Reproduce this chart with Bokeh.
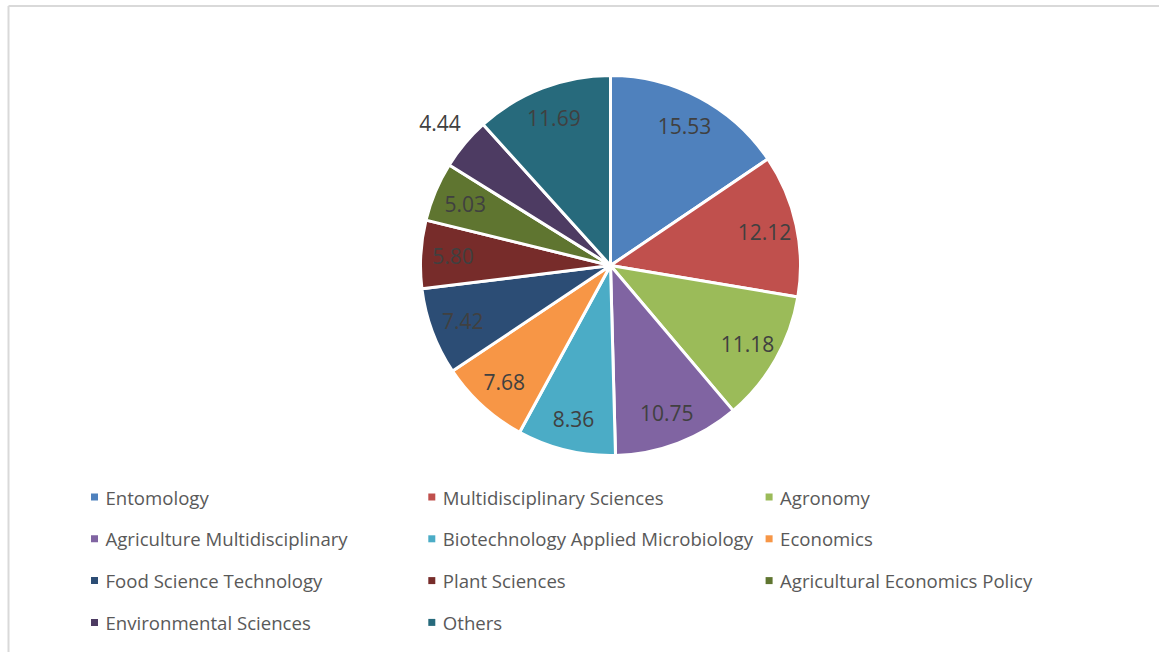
import math
from bokeh.plotting import figure
from bokeh.models import ColumnDataSource, Range1d
from bokeh.core.properties import value
from bokeh.embed import file_html
from bokeh.resources import INLINE

# ---- data ----
categories = [
    "Entomology", "Multidisciplinary Sciences", "Agronomy",
    "Agriculture Multidisciplinary", "Biotechnology Applied Microbiology", "Economics",
    "Food Science Technology", "Plant Sciences", "Agricultural Economics Policy",
    "Environmental Sciences", "Others",
]
shares = [15.53, 12.12, 11.18, 10.75, 8.36, 7.68, 7.42, 5.80, 5.03, 4.44, 11.69]
colors = ["#4F81BD", "#C0504D", "#9BBB59", "#8064A2", "#4BACC6", "#F79646",
          "#2C4D75", "#772C2A", "#5F7530", "#4D3B62", "#276A7C"]
label_outside = [False, False, False, False, False, False, False, False, False, True, False]

W, H = 1159, 652
p = figure(width=W, height=H, output_backend="svg", toolbar_location=None,
           x_range=Range1d(0, W), y_range=Range1d(0, H),
           x_axis_location=None, y_axis_location=None, min_border=0)
p.grid.visible = False
p.outline_line_color = None
p.background_fill_color = "white"
p.border_fill_color = "white"

# chart border (top & left visible)
p.segment(x0=[8, 8], y0=[H - 5.5, H - 5.5], x1=[W, 8], y1=[H - 5.5, 0],
          line_color="#D9D9D9", line_width=2)

cx, cy, R = 610, H - 265, 190
total = sum(shares)
starts, ends, lx, ly = [], [], [], []
cum = 0.0
for v, out in zip(shares, label_outside):
    a0 = math.pi / 2 - 2 * math.pi * cum / total
    cum += v
    a1 = math.pi / 2 - 2 * math.pi * cum / total
    starts.append(a0)
    ends.append(a1)
    mid = (a0 + a1) / 2
    rr = R * (1.17 if out else 0.83)
    lx.append(cx + rr * math.cos(mid))
    ly.append(cy + rr * math.sin(mid))

src = ColumnDataSource(dict(start=starts, end=ends, color=colors,
                            lx=lx, ly=ly, txt=[f"{v:.2f}" for v in shares]))
p.wedge(x=cx, y=cy, radius=R, start_angle="start", end_angle="end",
        direction="clock", fill_color="color", line_color="white",
        line_width=3, source=src)
p.text(x="lx", y="ly", text="txt", source=src, text_align="center",
       text_baseline="middle", text_color="#404040",
       text_font=value("Open Sans"), text_font_size="21px")

# legend (3 columns)
sx, tx, ty = [], [], []
for i in range(len(categories)):
    col, row = i % 3, i // 3
    x = 94 + col * 337.3
    y = H - (496.5 + row * 41.8)
    sx.append(x)
    ty.append(y)
    tx.append(x + 11)
lsrc = ColumnDataSource(dict(x=sx, y=ty, tx=tx, color=colors, name=categories))
p.scatter(x="x", y="y", source=lsrc, marker="square", size=7,
          fill_color="color", line_color=None)
p.text(x="tx", y="y", text="name", source=lsrc, text_align="left",
       text_baseline="middle", text_color="#595959",
       text_font=value("Open Sans"), text_font_size="18.6px")

open("out.html", "w").write(file_html(p, INLINE))
